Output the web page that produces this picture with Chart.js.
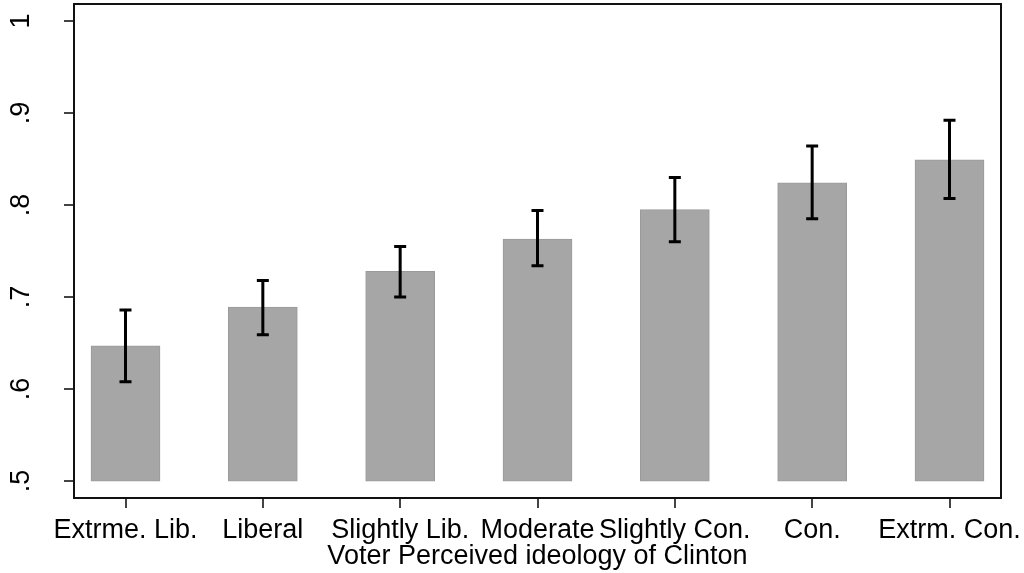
<!DOCTYPE html>
<html>
<head>
<meta charset="utf-8">
<script src="https://cdn.jsdelivr.net/npm/chart.js@4"></script>
<style>
  html, body { margin: 0; padding: 0; background: #fff; }
  #wrap { width: 1024px; height: 573px; }
</style>
</head>
<body>
<div id="wrap"><canvas id="chart" width="1024" height="573"></canvas></div>
<script>
// Data
const categories = ['Extrme. Lib.', 'Liberal', 'Slightly Lib.', 'Moderate', 'Slightly Con.', 'Con.', 'Extrm. Con.'];
const means = [0.647, 0.689, 0.728, 0.763, 0.795, 0.824, 0.849];
const upper = [0.686, 0.718, 0.755, 0.794, 0.830, 0.864, 0.892];
const lower = [0.608, 0.659, 0.700, 0.734, 0.760, 0.785, 0.807];
const barBase = 0.5;
const yTicks = [0.5, 0.6, 0.7, 0.8, 0.9, 1];
const yTickLabels = ['.5', '.6', '.7', '.8', '.9', '1'];
const xTitle = 'Voter Perceived ideology of Clinton';

const FONT = "'Liberation Sans', Arial, Helvetica, sans-serif";

// Frame around the plot region + error bars
const stataPlugin = {
  id: 'stata',
  afterDatasetsDraw(chart) {
    const { ctx, scales: { x, y } } = chart;
    ctx.save();
    ctx.strokeStyle = '#000';
    ctx.lineWidth = 3;
    ctx.lineCap = 'butt';
    means.forEach((m, i) => {
      const px = x.getPixelForValue(i + 1);
      const top = y.getPixelForValue(upper[i]);
      const bot = y.getPixelForValue(lower[i]);
      ctx.beginPath();
      ctx.moveTo(px, top);
      ctx.lineTo(px, bot);
      ctx.moveTo(px - 6, top);
      ctx.lineTo(px + 6, top);
      ctx.moveTo(px - 6, bot);
      ctx.lineTo(px + 6, bot);
      ctx.stroke();
    });
    const a = chart.chartArea;
    ctx.lineWidth = 2;
    ctx.strokeStyle = '#111';
    ctx.strokeRect(a.left, a.top, a.right - a.left, a.bottom - a.top);
    ctx.restore();
  }
};

const ctx = document.getElementById('chart').getContext('2d');
const chart = new Chart(ctx, {
  type: 'bar',
  data: {
    datasets: [{
      data: means.map((m, i) => ({ x: i + 1, y: [barBase, m] })),
      backgroundColor: '#a6a6a6',
      borderColor: '#9a9a9a',
      borderWidth: 1,
      borderSkipped: false,
      barThickness: 69,
    }],
  },
  options: {
    responsive: false,
    animation: false,
    layout: { padding: { top: 4, right: 23, left: 0, bottom: 0 } },
    plugins: {
      legend: { display: false },
      tooltip: { enabled: false },
    },
    scales: {
      x: {
        type: 'linear',
        offset: false,
        min: 0.625,
        max: 7.375,
        afterBuildTicks: (s) => { s.ticks = categories.map((c, i) => ({ value: i + 1 })); },
        afterFit: (s) => { s.height = 75; s.paddingLeft = 0; s.paddingRight = 0; },
        ticks: {
          autoSkip: false,
          maxRotation: 0,
          padding: 6,
          color: '#000',
          font: { family: FONT, size: 27 },
          callback: (v) => categories[Math.round(v) - 1],
        },
        grid: { offset: false, drawOnChartArea: false, tickLength: 10, color: '#444', lineWidth: 2 },
        border: { display: false },
        title: {
          display: true,
          text: xTitle,
          color: '#000',
          font: { family: FONT, size: 27 },
          padding: { top: 0, bottom: 0 },
        },
      },
      y: {
        min: 0.4816,
        max: 1.0184,
        afterBuildTicks: (s) => { s.ticks = yTicks.map(v => ({ value: v })); },
        afterFit: (s) => { s.width = 74; s.paddingTop = 0; s.paddingBottom = 0; },
        ticks: {
          minRotation: 90,
          maxRotation: 90,
          crossAlign: 'center',
          padding: 31,
          color: '#000',
          font: { family: FONT, size: 27 },
          callback: (v) => yTickLabels[yTicks.findIndex(t => Math.abs(t - v) < 1e-6)],
        },
        grid: { drawOnChartArea: false, tickLength: 10, color: '#444', lineWidth: 2 },
        border: { display: false },
      },
    },
  },
  plugins: [stataPlugin],
});
</script>
</body>
</html>
